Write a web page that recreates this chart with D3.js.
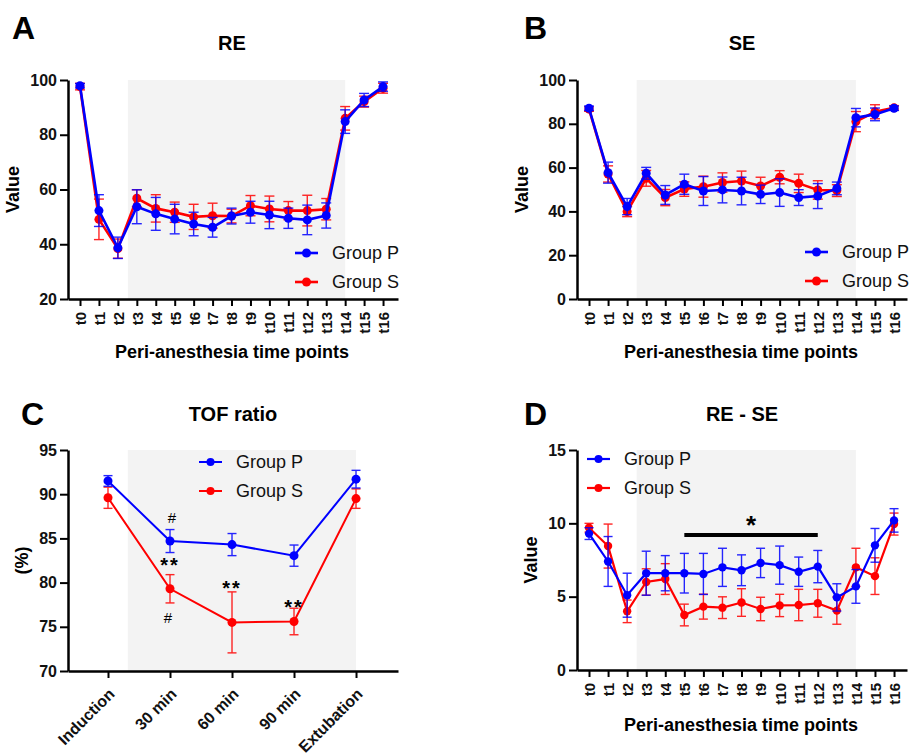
<!DOCTYPE html>
<html><head><meta charset="utf-8">
<script src="https://cdn.jsdelivr.net/npm/d3@7"></script>
<style>body{margin:0;background:#fff;} svg{display:block;} text{font-family:Arial,"Liberation Sans",sans-serif;}</style>
</head><body>
<svg id="c" width="914" height="755"></svg>
<script>
const timePoints = d3.range(17).map(i => "t" + i);
const tofCategories = ["Induction", "30 min", "60 min", "90 min", "Extubation"];

const reP = [97.9,52.3,38.7,53.7,51.1,49.2,47.4,46.2,50.3,51.7,50.7,49.5,48.9,50.5,84.8,92.7,97.6];
const reP_sd = [0.8,5.8,3.9,6.2,6.0,5.4,4.3,3.6,2.9,4.0,5.0,3.7,5.4,4.6,4.3,2.4,1.7];
const reS = [97.6,49.1,38.4,56.8,53.1,51.7,50.0,50.4,50.3,54.1,52.9,52.3,52.3,52.8,86.0,92.1,97.0];
const reS_sd = [1.2,7.4,3.5,3.1,5.0,3.7,4.6,4.6,2.5,3.7,4.7,3.3,5.6,3.9,4.3,2.0,1.8];

const seP = [87.1,57.7,42.2,57.4,47.5,52.4,49.3,49.8,49.3,47.8,48.6,46.3,47.0,50.5,82.8,84.3,87.1];
const seP_sd = [1.0,4.8,3.7,2.7,4.3,4.6,6.6,5.9,6.3,4.2,6.3,3.6,5.7,2.9,4.2,2.9,1.0];
const seS = [86.7,57.1,39.9,55.1,46.3,50.2,51.3,53.2,53.9,51.6,55.6,52.8,49.8,49.5,81.0,85.5,87.3];
const seS_sd = [1.0,3.7,2.3,3.6,3.7,3.3,4.8,4.4,4.5,4.0,3.0,4.2,4.2,2.7,4.6,3.2,1.0];

const tofP = [91.5,84.7,84.3,83.05,91.7];
const tofP_sd = [0.6,1.3,1.25,1.2,1.0];
const tofS = [89.6,79.3,75.5,75.6,89.5];
const tofS_sd = [1.2,1.6,3.45,1.5,1.1];

const diffP = [9.3,7.4,5.1,6.6,6.6,6.6,6.55,7.0,6.8,7.3,7.15,6.7,7.05,4.95,5.7,8.5,10.2];
const diffP_sd = [0.4,1.7,1.5,1.5,1.2,1.35,1.4,1.3,1.05,1.0,1.3,1.0,1.1,0.93,1.15,1.15,0.8];
const diffS = [9.7,8.45,4.0,6.0,6.2,3.75,4.32,4.25,4.6,4.16,4.4,4.43,4.55,4.05,7.0,6.4,9.95];
const diffS_sd = [0.3,1.5,0.77,0.9,1.05,0.74,0.85,0.74,0.94,0.8,0.76,1.07,0.95,0.93,1.3,1.25,0.75];

const ticksRE = [20,40,60,80,100];
const ticksSE = [0,20,40,60,80,100];
const ticksTOF = [70,75,80,85,90,95];
const ticksDiff = [0,5,10,15];

const BLUE = "#0000ff", RED = "#ff0000", SHADE = "#f3f3f3";
const svg = d3.select("#c");

function panel(o) {
  const g = svg.append("g");
  const x = d3.scaleLinear().domain(o.xDomain).range([o.left, o.right]);
  const y = d3.scaleLinear().domain(o.yDomain).range([o.bottom, o.top]);
  g.append("rect").attr("x", x(o.shade[0])).attr("y", o.top)
    .attr("width", x(o.shade[1]) - x(o.shade[0])).attr("height", o.bottom - o.top)
    .attr("fill", SHADE);
  const n = o.labels.length;
  const idx = d3.range(n);
  const series = [
    {m: o.S, sd: o.Ssd, c: RED},
    {m: o.P, sd: o.Psd, c: BLUE}
  ];
  series.forEach(s => {
    const eg = g.append("g").attr("stroke", s.c).attr("stroke-width", 1.4).attr("opacity", 0.85);
    idx.forEach(i => {
      const cx = x(i), y1 = y(s.m[i] - s.sd[i]), y2 = y(s.m[i] + s.sd[i]);
      eg.append("line").attr("x1", cx).attr("x2", cx).attr("y1", y1).attr("y2", y2);
      eg.append("line").attr("x1", cx - o.cap).attr("x2", cx + o.cap).attr("y1", y1).attr("y2", y1);
      eg.append("line").attr("x1", cx - o.cap).attr("x2", cx + o.cap).attr("y1", y2).attr("y2", y2);
    });
    g.append("path").datum(idx)
      .attr("d", d3.line().x(i => x(i)).y(i => y(s.m[i])))
      .attr("fill", "none").attr("stroke", s.c).attr("stroke-width", o.lw);
    g.selectAll(null).data(idx).enter().append("circle")
      .attr("cx", i => x(i)).attr("cy", i => y(s.m[i])).attr("r", o.r).attr("fill", s.c);
  });
  const ya = g.append("g").attr("transform", `translate(${o.left},0)`)
    .call(d3.axisLeft(y).tickValues(o.yTicks).tickSize(8).tickPadding(3).tickSizeOuter(0));
  ya.select(".domain").attr("stroke-width", 2.5);
  ya.selectAll(".tick line").attr("stroke-width", 2);
  ya.selectAll("text").attr("font-size", 16).attr("font-weight", "bold").attr("fill", "#111")
    .style("font-family", 'Arial,"Liberation Sans",sans-serif');
  const xa = g.append("g").attr("transform", `translate(0,${o.bottom})`)
    .call(d3.axisBottom(x).tickValues(idx).tickFormat(i => o.labels[i]).tickSize(7).tickSizeOuter(0));
  xa.select(".domain").attr("stroke-width", 2.5);
  xa.selectAll(".tick line").attr("stroke-width", 2);
  const xt = xa.selectAll("text").attr("font-weight", "bold").attr("fill", "#111")
    .style("font-family", 'Arial,"Liberation Sans",sans-serif');
  if (o.rot90) {
    xt.attr("font-size", 15).attr("transform", "rotate(-90)").attr("text-anchor", "end")
      .attr("x", -13).attr("y", 0).attr("dy", "0.36em");
  } else {
    xt.attr("font-size", 16).attr("transform", "translate(3,20) rotate(-45)").attr("text-anchor", "end")
      .attr("x", 0).attr("y", 0).attr("dy", "0.36em");
  }
  svg.append("text").attr("x", o.letter[0]).attr("y", o.letter[1]).text(o.letterText)
    .attr("font-size", 32).attr("font-weight", "bold");
  svg.append("text").attr("x", o.title[0]).attr("y", o.title[1]).text(o.titleText)
    .attr("font-size", 20).attr("font-weight", "bold").attr("text-anchor", "middle");
  svg.append("text").attr("transform", `translate(${o.ytitleX},${(o.top + o.bottom) / 2}) rotate(-90)`)
    .text(o.ytitleText).attr("font-size", 18).attr("font-weight", "bold").attr("text-anchor", "middle");
  if (o.xtitleText) {
    svg.append("text").attr("x", o.xtitle[0]).attr("y", o.xtitle[1]).text(o.xtitleText)
      .attr("font-size", 18).attr("font-weight", "bold").attr("text-anchor", "middle");
  }
  [["Group P", BLUE, 0], ["Group S", RED, 1]].forEach(([t, c, k]) => {
    const ly = o.legend[1] + k * 29;
    svg.append("line").attr("x1", o.legend[0]).attr("x2", o.legend[0] + 23).attr("y1", ly).attr("y2", ly)
      .attr("stroke", c).attr("stroke-width", o.lw);
    svg.append("circle").attr("cx", o.legend[0] + 11.5).attr("cy", ly).attr("r", o.lr).attr("fill", c);
    svg.append("text").attr("x", o.legend[0] + 37).attr("y", ly).attr("dy", "0.35em").text(t)
      .attr("font-size", 18).attr("fill", "#111");
  });
  return {x, y};
}

const A = panel({left: 68, right: 398, top: 80, bottom: 299, xDomain: [-0.634, 16.79], yDomain: [20, 100],
  yTicks: ticksRE, labels: timePoints, P: reP, Psd: reP_sd, S: reS, Ssd: reS_sd, shade: [2.53, 14],
  cap: 5, lw: 2.6, r: 4.5, lr: 4.5, rot90: true, letter: [12, 39], letterText: "A", title: [232, 50], titleText: "RE",
  ytitleX: 19, ytitleText: "Value", xtitle: [232, 358], xtitleText: "Peri-anesthesia time points", legend: [295, 253]});

const B = panel({left: 577, right: 907, top: 80, bottom: 299, xDomain: [-0.63, 16.68], yDomain: [0, 100],
  yTicks: ticksSE, labels: timePoints, P: seP, Psd: seP_sd, S: seS, Ssd: seS_sd, shade: [2.5, 14],
  cap: 5, lw: 2.6, r: 4.5, lr: 4.5, rot90: true, letter: [524, 39], letterText: "B", title: [742, 50], titleText: "SE",
  ytitleX: 528, ytitleText: "Value", xtitle: [741, 358], xtitleText: "Peri-anesthesia time points", legend: [805, 252]});

const C = panel({left: 68, right: 398, top: 450, bottom: 671, xDomain: [-0.645, 4.677], yDomain: [70, 95],
  yTicks: ticksTOF, labels: tofCategories, P: tofP, Psd: tofP_sd, S: tofS, Ssd: tofS_sd, shade: [0.32, 4],
  cap: 4.5, lw: 2, r: 4.5, lr: 4, rot90: false, letter: [21, 425], letterText: "C", title: [233, 421], titleText: "TOF ratio",
  ytitleX: 28, ytitleText: "(%)", xtitleText: null, legend: [199, 462]});

const D = panel({left: 577, right: 907, top: 450, bottom: 670, xDomain: [-0.63, 16.68], yDomain: [0, 15],
  yTicks: ticksDiff, labels: timePoints, P: diffP, Psd: diffP_sd, S: diffS, Ssd: diffS_sd, shade: [2.5, 14],
  cap: 4.5, lw: 2.2, r: 4.2, lr: 4, rot90: true, letter: [524, 425], letterText: "D", title: [742, 421], titleText: "RE - SE",
  ytitleX: 537, ytitleText: "Value", xtitle: [741, 731], xtitleText: "Peri-anesthesia time points", legend: [587, 459]});

const ast = [[1, tofS[1] + tofS_sd[1], 15], [2, tofS[2] + tofS_sd[2], 9], [3, tofS[3] + tofS_sd[3], 6]];
ast.forEach(([i, v, off]) => {
  svg.append("text").attr("x", C.x(i)).attr("y", C.y(v) - off + 12).text("**")
    .attr("font-size", 20).attr("font-weight", "bold").attr("text-anchor", "middle").attr("letter-spacing", 2);
});
svg.append("text").attr("x", C.x(1) + 2).attr("y", C.y(tofP[1] + tofP_sd[1]) - 7).text("#")
  .attr("font-size", 15).attr("text-anchor", "middle");
svg.append("text").attr("x", C.x(1) - 2).attr("y", C.y(tofS[1] - tofS_sd[1]) + 20).text("#")
  .attr("font-size", 15).attr("text-anchor", "middle");

svg.append("line").attr("x1", D.x(5)).attr("x2", D.x(12)).attr("y1", D.y(9.2)).attr("y2", D.y(9.2))
  .attr("stroke", "#000").attr("stroke-width", 4);
svg.append("text").attr("x", (D.x(5) + D.x(12)) / 2).attr("y", D.y(9.2) - 1).text("*")
  .attr("font-size", 26).attr("font-weight", "bold").attr("text-anchor", "middle");
</script>
</body></html>
